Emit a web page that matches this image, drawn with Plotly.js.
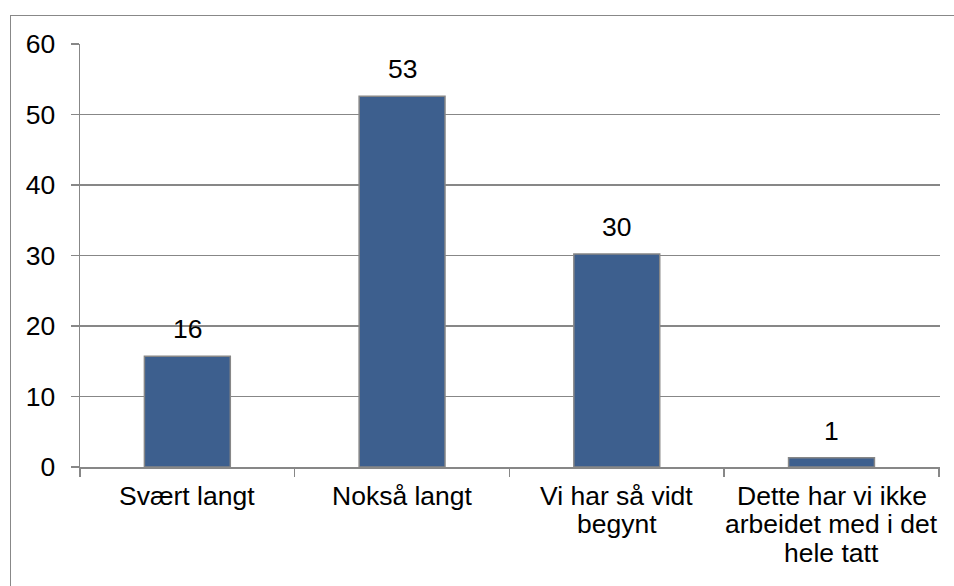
<!DOCTYPE html>
<html>
<head>
<meta charset="utf-8">
<script src="https://cdn.plot.ly/plotly-3.0.1.min.js"></script>
<style>
  html, body { margin: 0; padding: 0; background: #ffffff; }
  #wrap { position: relative; width: 954px; height: 586px; overflow: hidden; }
  #chart { width: 954px; height: 586px; }
  #frame { position: absolute; left: 10px; top: 15px; width: 980px; height: 620px;
           border: 1.5px solid #888888; box-sizing: border-box; pointer-events: none; }
</style>
</head>
<body>
<div id="wrap">
  <div id="chart"></div>
  <div id="frame"></div>
</div>
<script>
// Data
const categories = ["Svært langt", "Nokså langt", "Vi har så vidt begynt", "Dette har vi ikke arbeidet med i det hele tatt"];
const categoryLines = [
  ["Svært langt"],
  ["Nokså langt"],
  ["Vi har så vidt", "begynt"],
  ["Dette har vi ikke", "arbeidet med i det", "hele tatt"]
];
const values = [15.7, 52.6, 30.2, 1.3];
const labels = ["16", "53", "30", "1"];
const yTicks = [0, 10, 20, 30, 40, 50, 60];

const FONT = "Liberation Sans, Arial, sans-serif";
const annotations = [];

// value labels
categories.forEach((c, i) => {
  annotations.push({
    x: c, y: values[i], xref: "x", yref: "y",
    text: labels[i], showarrow: false,
    yanchor: "bottom", yshift: 10,
    font: { family: FONT, size: 26.5, color: "#000000" }
  });
});

// category labels, one line per annotation for tight line spacing
categories.forEach((c, i) => {
  categoryLines[i].forEach((line, j) => {
    annotations.push({
      x: c, y: 0, xref: "x", yref: "paper",
      text: line, showarrow: false,
      yanchor: "top", yshift: -12 - j * 28.3,
      font: { family: FONT, size: 26.5, color: "#000000" }
    });
  });
});

const trace = {
  type: "bar",
  x: categories,
  y: values,
  marker: { color: "#3d5f8e", line: { color: "#878787", width: 1.5 } },
  hoverinfo: "none"
};

const layout = {
  width: 954, height: 586,
  margin: { l: 80, r: 14, t: 44, b: 119, pad: 0 },
  paper_bgcolor: "#ffffff", plot_bgcolor: "#ffffff",
  showlegend: false,
  bargap: 0.6,
  font: { family: FONT, size: 26.5, color: "#000000" },
  xaxis: {
    type: "category",
    showticklabels: false,
    tickson: "boundaries",
    ticks: "outside", ticklen: 8, tickcolor: "#878787", tickwidth: 1.5,
    showline: true, linecolor: "#878787", linewidth: 1.5,
    showgrid: false, zeroline: false
  },
  yaxis: {
    range: [0, 60],
    tickvals: yTicks,
    ticktext: yTicks.map(String),
    ticks: "outside", ticklen: 8, tickcolor: "#878787", tickwidth: 1.5,
    tickfont: { family: FONT, size: 26.5, color: "#000000" },
    ticklabelstandoff: 10,
    showline: true, linecolor: "#878787", linewidth: 1.5,
    showgrid: true, gridcolor: "#878787", gridwidth: 1.5,
    zeroline: false
  },
  annotations: annotations
};

Plotly.newPlot("chart", [trace], layout, { displayModeBar: false, staticPlot: true });
</script>
</body>
</html>
